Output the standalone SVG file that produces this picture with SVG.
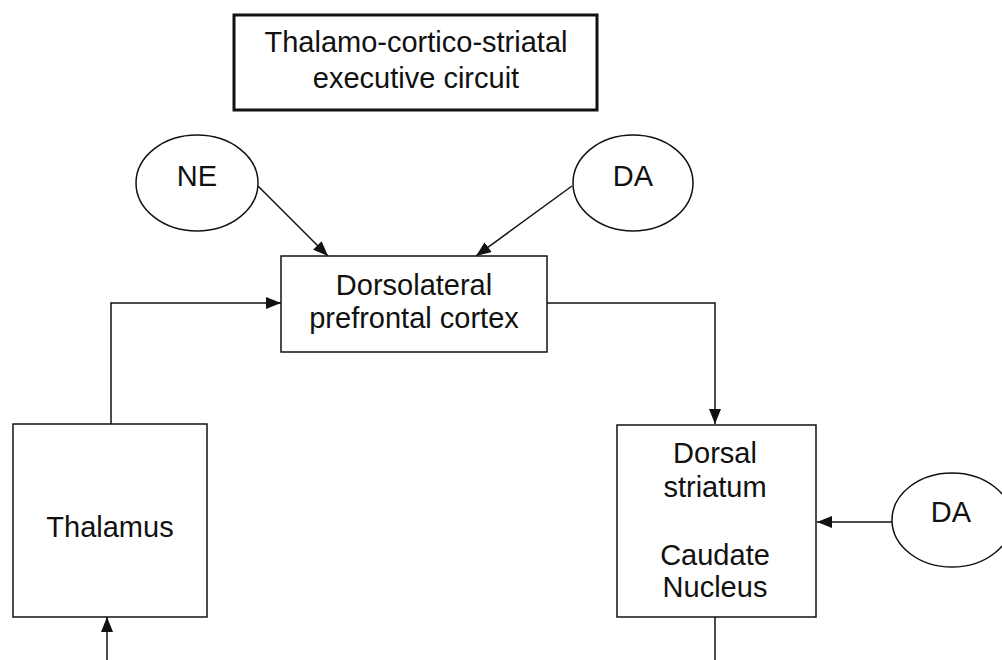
<svg xmlns="http://www.w3.org/2000/svg" width="1002" height="660" viewBox="0 0 1002 660">
  <style>
    .box { fill: #fff; stroke: #111; stroke-width: 1.5; }
    .title { fill: #fff; stroke: #111; stroke-width: 3; }
    .ell { fill: #fff; stroke: #111; stroke-width: 1.5; }
    .lbl { font-family: "Liberation Sans", Arial, sans-serif; font-size: 29px; fill: #111; text-anchor: middle; }
    .link { fill: none; stroke: #111; stroke-width: 1.5; }
  </style>
  <defs>
    <marker id="arrow" markerUnits="userSpaceOnUse" markerWidth="16" markerHeight="12" refX="15" refY="6" orient="auto">
      <path d="M0,0 L15,6 L0,12 Z" fill="#111"/>
    </marker>
  </defs>
  <rect width="1002" height="660" fill="#fff"/>

  <g id="title">
    <rect class="title" x="234" y="15" width="363" height="95"/>
    <text class="lbl" x="416" y="52">Thalamo-cortico-striatal</text>
    <text class="lbl" x="416" y="88">executive circuit</text>
  </g>

  <g id="connectors">
    <line class="link" x1="258" y1="186" x2="328" y2="256" marker-end="url(#arrow)"/>
    <line class="link" x1="572" y1="186" x2="476" y2="256" marker-end="url(#arrow)"/>
    <polyline class="link" points="111,424 111,303 281,303" marker-end="url(#arrow)"/>
    <polyline class="link" points="547,303 715,303 715,424" marker-end="url(#arrow)"/>
    <line class="link" x1="892" y1="522" x2="817" y2="522" marker-end="url(#arrow)"/>
    <line class="link" x1="107" y1="660" x2="107" y2="617" marker-end="url(#arrow)"/>
    <line class="link" x1="715" y1="617" x2="715" y2="660"/>
  </g>

  <g id="ne">
    <ellipse class="ell" cx="197" cy="183" rx="61" ry="48"/>
    <text class="lbl" x="197" y="186">NE</text>
  </g>

  <g id="da-cortex">
    <ellipse class="ell" cx="633" cy="183" rx="60" ry="48"/>
    <text class="lbl" x="633" y="186">DA</text>
  </g>

  <g id="dlpfc">
    <rect class="box" x="281" y="256" width="266" height="96"/>
    <text class="lbl" x="414" y="295">Dorsolateral</text>
    <text class="lbl" x="414" y="328">prefrontal cortex</text>
  </g>

  <g id="thalamus">
    <rect class="box" x="13" y="424" width="194" height="193"/>
    <text class="lbl" x="110" y="537">Thalamus</text>
  </g>

  <g id="striatum">
    <rect class="box" x="617" y="425" width="199" height="192"/>
    <text class="lbl" x="715" y="463">Dorsal</text>
    <text class="lbl" x="715" y="497">striatum</text>
    <text class="lbl" x="715" y="565">Caudate</text>
    <text class="lbl" x="715" y="597">Nucleus</text>
  </g>

  <g id="da-striatum">
    <ellipse class="ell" cx="952" cy="520" rx="60" ry="47"/>
    <text class="lbl" x="951" y="522">DA</text>
  </g>
</svg>
